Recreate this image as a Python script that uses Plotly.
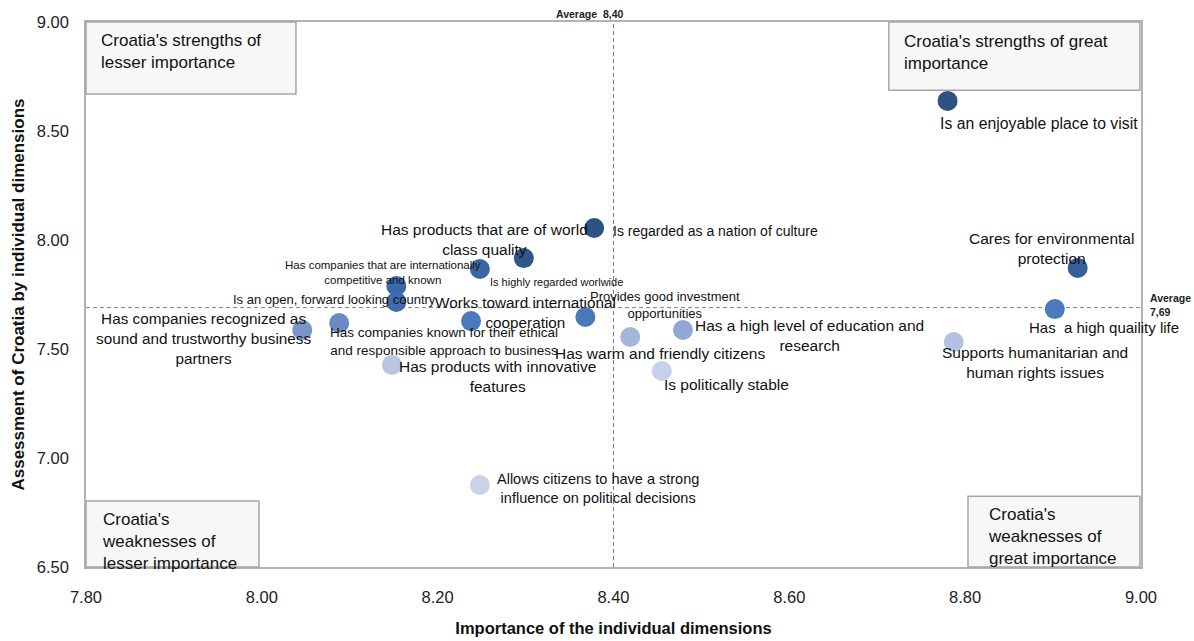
import plotly.graph_objects as go

# Dimensions of Croatia's image: importance (x) vs. assessment (y)
dimensions = [
    "Is an enjoyable place to visit",
    "Is regarded as a nation of culture",
    "Has products that are of world<br>class quality",
    "Is highly regarded worlwide",
    "Has companies that are internationally<br>competitive and known",
    "Is an open, forward looking country",
    "Works toward international<br>cooperation",
    "Provides good investment<br>opportunities",
    "Has companies known for their ethical<br>and responsible approach to business",
    "Has companies recognized as<br>sound and trustworthy business<br>partners",
    "Has products with innovative<br>features",
    "Has warm and friendly citizens",
    "Has a high level of education and<br>research",
    "Is politically stable",
    "Allows citizens to have a strong<br>influence on political decisions",
    "Cares for environmental<br>protection",
    "Has  a high quaility life",
    "Supports humanitarian and<br>human rights issues",
]
importance = [8.78, 8.378, 8.298, 8.248, 8.153, 8.153, 8.238, 8.368, 8.088,
              8.046, 8.148, 8.419, 8.479, 8.455, 8.248, 8.928, 8.902, 8.787]
assessment = [8.638, 8.055, 7.917, 7.867, 7.789, 7.716, 7.628, 7.647, 7.619,
              7.587, 7.427, 7.555, 7.587, 7.399, 6.876, 7.872, 7.683, 7.532]

avg_importance = 8.40
avg_assessment = 7.69

x_ticks = [7.8, 8.0, 8.2, 8.4, 8.6, 8.8, 9.0]
y_ticks = [6.5, 7.0, 7.5, 8.0, 8.5, 9.0]

quadrant_titles = [
    "Croatia's strengths of<br>lesser importance",
    "Croatia's strengths of great<br>importance",
    "Croatia's<br>weaknesses of<br>lesser importance",
    "Croatia's<br>weaknesses of<br>great importance",
]

# ---- styling ----
point_colors = ["#2F5282", "#2F5282", "#30578A", "#3A65A2", "#3C69A9", "#3E6CAD",
                "#4A79BC", "#4A79BB", "#6A8AC4", "#7A96C9", "#B9C6E3", "#A4B6DC",
                "#91A7D6", "#C6D1E9", "#C8D2E9", "#34609A", "#4A7BBF", "#B4C2E0"]

# label placement relative to its marker: (anchor, xshift, yshift, font size)
label_layout = [
    ("left", -10, -23, 15.8),
    ("left", 17, -3, 14),
    ("center", -39, 19, 15.5),
    ("left", 8, -13, 11),
    ("center", -13, 14, 11.5),
    ("center", -62, 2, 13),
    ("center", 54, 9, 15.3),
    ("center", 80, 12, 13),
    ("center", 105, -18, 13.5),
    ("center", -99, -8, 15.3),
    ("center", 106, -12, 15.5),
    ("center", 30, -16, 15.5),
    ("center", 127, -5, 15.5),
    ("center", 65, -13, 15.5),
    ("center", 118, -3, 14.5),
    ("center", -26, 19, 15.5),
    ("center", 49, -18, 15),
    ("center", 81, -20, 15.5),
]

FONT = "Liberation Sans, Arial, sans-serif"

fig = go.Figure()
fig.add_trace(go.Scatter(
    x=importance, y=assessment, mode="markers",
    text=dimensions, hoverinfo="text+x+y",
    marker=dict(size=20, color=point_colors, line=dict(width=0)),
    showlegend=False,
))

annotations = []
for name, xv, yv, (anchor, dx, dy, fs) in zip(dimensions, importance, assessment, label_layout):
    annotations.append(dict(
        x=xv, y=yv, xref="x", yref="y", text=name, showarrow=False,
        xanchor=anchor, yanchor="middle", xshift=dx, yshift=dy, align="center",
        font=dict(family=FONT, size=fs, color="#111111"),
    ))

# quadrant boxes (paper coordinates of the plotting area)
boxes = [
    (0.0, 0.199, 0.868, 1.0),
    (0.761, 0.999, 0.875, 1.0),
    (0.0, 0.164, 0.0, 0.121),
    (0.836, 0.999, 0.0, 0.130),
]
box_text_pos = [(0.0123, 0.988), (0.773, 0.986), (0.0133, 0.108), (0.853, 0.118)]

shapes = []
for (x0, x1, y0, y1) in boxes:
    shapes.append(dict(type="rect", xref="paper", yref="paper", x0=x0, x1=x1, y0=y0, y1=y1,
                       fillcolor="#F7F7F7", line=dict(color="#A6A6A6", width=1.5), layer="above"))
for title, (tx, ty) in zip(quadrant_titles, box_text_pos):
    annotations.append(dict(
        x=tx, y=ty, xref="paper", yref="paper", text=title, showarrow=False,
        xanchor="left", yanchor="top", align="left",
        font=dict(family=FONT, size=17, color="#111111"),
    ))

# average reference lines
shapes.append(dict(type="line", xref="x", yref="paper", x0=avg_importance, x1=avg_importance,
                   y0=0, y1=1, line=dict(color="#7F7F7F", width=1, dash="4px,3px"), layer="below"))
shapes.append(dict(type="line", xref="paper", yref="y", x0=0, x1=1,
                   y0=avg_assessment, y1=avg_assessment,
                   line=dict(color="#7F7F7F", width=1, dash="4px,3px"), layer="below"))

def comma(v):
    return f"{v:.2f}".replace(".", ",")

annotations.append(dict(
    x=avg_importance, y=1, xref="x", yref="paper",
    text=f"<b>Average  {comma(avg_importance)}</b>", showarrow=False,
    xanchor="center", yanchor="bottom", xshift=-24, yshift=0,
    font=dict(family=FONT, size=10.5, color="#222222"),
))
annotations.append(dict(
    x=1, y=avg_assessment, xref="paper", yref="y",
    text=f"<b>Average<br>{comma(avg_assessment)}</b>", showarrow=False,
    xanchor="left", yanchor="middle", xshift=7, yshift=3, align="left",
    font=dict(family=FONT, size=10.5, color="#222222"),
))

axis_common = dict(
    showgrid=False, zeroline=False, showline=True, mirror=True,
    linecolor="#B3B3B3", linewidth=1.5, ticks="", automargin=False,
    tickfont=dict(family=FONT, size=16.5, color="#222222"),
    tickformat=".2f",
)

fig.update_layout(
    width=1194, height=641,
    margin=dict(l=86, r=53, t=22, b=74),
    paper_bgcolor="white", plot_bgcolor="white",
    font=dict(family=FONT),
    xaxis=dict(axis_common, range=[7.8, 9.0], tickvals=x_ticks, ticklabelstandoff=14,
               title=dict(text="<b>Importance of the individual dimensions</b>", standoff=18,
                          font=dict(family=FONT, size=16.5, color="#111111"))),
    yaxis=dict(axis_common, range=[6.5, 9.0], tickvals=y_ticks, ticklabelstandoff=12,
               title=dict(text="<b>Assessment of Croatia by individual dimensions</b>", standoff=8,
                          font=dict(family=FONT, size=17, color="#111111"))),
    shapes=shapes,
    annotations=annotations,
)

fig.write_html("out.html")
